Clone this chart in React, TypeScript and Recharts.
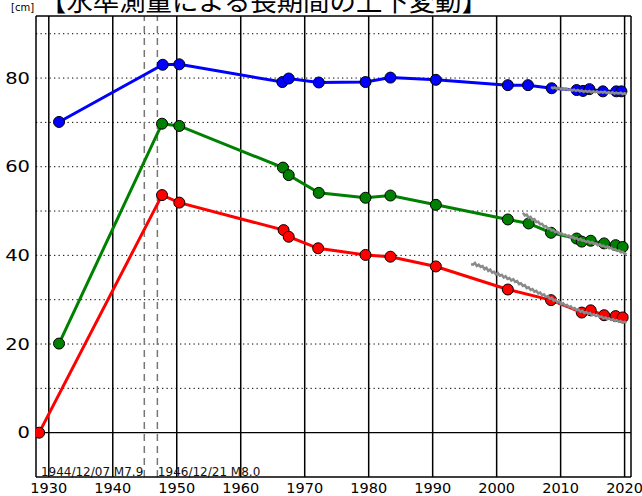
import React from "react";
import { LineChart, Line, XAxis, YAxis, ReferenceLine } from "recharts";

const titleText = "【水準測量による長期間の上下変動】";
const unitText = "[cm]";
const quake1Label = "1944/12/07 M7.9";
const quake2Label = "1946/12/21 M8.0";
const quakeYears = [1944.93, 1946.97];

const xTicks = [1930, 1940, 1950, 1960, 1970, 1980, 1990, 2000, 2010, 2020];
const yTicks = [0, 20, 40, 60, 80];
const yDotted = [10, 20, 30, 40, 50, 60, 70, 80, 90];
const yMinorTicks = [0, 10, 20, 30, 40, 50, 60, 70, 80, 90];

const blueYears = [1931.6, 1947.8, 1950.4, 1966.5, 1967.5, 1972.2, 1979.5, 1983.4, 1990.5, 2001.75, 2004.9, 2008.6, 2012.5, 2013.5, 2014.5, 2016.6, 2018.7, 2019.5];
const blueValues = [70.1, 83.0, 83.1, 79.1, 79.9, 79.0, 79.1, 80.1, 79.6, 78.4, 78.4, 77.7, 77.3, 77.1, 77.5, 77.0, 77.0, 77.0];

const greenYears = [1931.6, 1947.7, 1950.4, 1966.6, 1967.5, 1972.2, 1979.5, 1983.4, 1990.5, 2001.75, 2005.0, 2008.5, 2012.5, 2013.3, 2014.7, 2016.8, 2018.6, 2019.7];
const greenValues = [20.1, 69.7, 69.2, 59.8, 58.1, 54.1, 53.0, 53.5, 51.4, 48.1, 47.2, 45.1, 43.8, 43.1, 43.3, 42.7, 42.3, 41.9];

const redYears = [1928.5, 1947.7, 1950.4, 1966.7, 1967.5, 1972.1, 1979.5, 1983.4, 1990.5, 2001.75, 2008.5, 2013.3, 2014.7, 2016.8, 2018.6, 2019.7];
const redValues = [0, 53.6, 51.9, 45.7, 44.2, 41.6, 40.1, 39.7, 37.5, 32.3, 29.9, 27.1, 27.6, 26.5, 26.3, 26.0];

const grayBlueYears = [2008.5, 2008.8, 2009.1, 2009.4, 2009.7, 2010.0, 2010.3, 2010.6, 2010.9, 2011.2, 2011.5, 2011.8, 2012.1, 2012.4, 2012.7, 2013.0, 2013.3, 2013.6, 2013.9, 2014.2, 2014.5, 2014.8, 2015.1, 2015.4, 2015.7, 2016.0, 2016.3, 2016.6, 2016.9, 2017.2, 2017.5, 2017.8, 2018.1, 2018.4, 2018.7, 2019.0, 2019.4, 2019.7, 2020.0, 2020.3];
const grayBlueValues = [78.0, 77.7, 77.9, 77.6, 77.8, 77.5, 77.7, 77.4, 77.6, 77.3, 77.5, 77.2, 77.4, 77.1, 77.3, 77.0, 77.2, 76.9, 77.1, 76.9, 77.1, 76.8, 77.0, 76.8, 77.0, 76.7, 76.9, 76.7, 76.9, 76.6, 76.8, 76.6, 76.8, 76.5, 76.7, 76.5, 76.7, 76.4, 76.6, 76.4];

const grayGreenYears = [2004.1, 2004.4, 2004.7, 2005.0, 2005.3, 2005.6, 2005.9, 2006.2, 2006.5, 2006.8, 2007.1, 2007.4, 2007.7, 2008.0, 2008.3, 2008.6, 2008.9, 2009.2, 2009.5, 2009.8, 2010.1, 2010.4, 2010.7, 2011.0, 2011.3, 2011.6, 2011.9, 2012.2, 2012.5, 2012.8, 2013.1, 2013.4, 2013.7, 2014.0, 2014.3, 2014.6, 2014.9, 2015.2, 2015.5, 2015.8, 2016.1, 2016.4, 2016.7, 2017.0, 2017.3, 2017.6, 2017.9, 2018.2, 2018.5, 2018.8, 2019.1, 2019.4, 2019.7, 2020.0, 2020.3];
const grayGreenValues = [49.6, 49.0, 49.2, 48.5, 48.7, 48.0, 48.2, 47.5, 47.6, 47.0, 47.1, 46.5, 46.6, 46.0, 46.1, 45.6, 45.7, 45.2, 45.3, 44.9, 45.0, 44.6, 44.7, 44.3, 44.5, 44.0, 44.2, 43.8, 43.9, 43.5, 43.7, 43.3, 43.4, 43.0, 43.2, 42.8, 43.0, 42.6, 42.7, 42.3, 42.5, 42.1, 42.2, 41.8, 42.0, 41.6, 41.7, 41.3, 41.4, 41.0, 41.1, 40.7, 40.8, 40.4, 40.2];

const grayRedYears = [1996.0, 1996.3, 1996.6, 1996.9, 1997.2, 1997.5, 1997.8, 1998.1, 1998.4, 1998.7, 1999.0, 1999.3, 1999.6, 1999.9, 2000.2, 2000.5, 2000.8, 2001.1, 2001.4, 2001.7, 2002.0, 2002.3, 2002.6, 2002.9, 2003.2, 2003.5, 2003.8, 2004.1, 2004.4, 2004.7, 2005.0, 2005.3, 2005.6, 2005.9, 2006.2, 2006.5, 2006.8, 2007.1, 2007.4, 2007.7, 2008.0, 2008.3, 2008.6, 2008.9, 2009.2, 2009.5, 2009.8, 2010.1, 2010.4, 2010.7, 2011.0, 2011.3, 2011.6, 2011.9, 2012.2, 2012.5, 2012.8, 2013.1, 2013.4, 2013.7, 2014.0, 2014.3, 2014.6, 2014.9, 2015.2, 2015.5, 2015.8, 2016.1, 2016.4, 2016.7, 2017.0, 2017.3, 2017.6, 2017.9, 2018.2, 2018.5, 2018.8, 2019.1, 2019.4, 2019.7, 2020.0, 2020.3];
const grayRedValues = [38.0, 37.9, 38.3, 37.6, 37.9, 37.4, 37.6, 36.9, 37.2, 36.5, 36.8, 36.1, 36.3, 35.7, 36.0, 35.4, 35.6, 35.0, 35.3, 34.7, 34.9, 34.3, 34.6, 34.0, 34.2, 33.5, 33.7, 33.1, 33.3, 32.6, 32.8, 32.2, 32.4, 31.8, 32.0, 31.4, 31.6, 31.0, 31.2, 30.6, 30.8, 30.2, 30.4, 29.8, 30.0, 29.4, 29.6, 29.0, 29.2, 28.7, 28.8, 28.3, 28.5, 27.9, 28.1, 27.6, 27.8, 27.3, 27.5, 27.0, 27.2, 26.8, 27.0, 26.5, 26.7, 26.3, 26.5, 26.1, 26.2, 25.8, 26.0, 25.6, 25.8, 25.4, 25.6, 25.2, 25.4, 25.0, 25.2, 24.8, 25.0, 24.8];

const toData = (xs: number[], ys: number[]) => xs.map((x, i) => ({ year: x, v: ys[i] }));

const blueData = toData(blueYears, blueValues);
const greenData = toData(greenYears, greenValues);
const redData = toData(redYears, redValues);
const grayBlue = toData(grayBlueYears, grayBlueValues);
const grayGreen = toData(grayGreenYears, grayGreenValues);
const grayRed = toData(grayRedYears, grayRedValues);

const FONT = "'DejaVu Sans', sans-serif";

const XTick = (props: any) => {
  const { x, y, payload } = props;
  return (
    <text x={x} y={y + 16} textAnchor="middle" fontSize={14.5} fontFamily={FONT} fill="#000">
      {payload.value}
    </text>
  );
};

const YTick = (props: any) => {
  const { x, y, payload } = props;
  return (
    <text
      transform={`translate(${x},${y + 5.5}) scale(1.3,1)`}
      textAnchor="end"
      fontSize={15}
      fontFamily={FONT}
      fill="#000"
    >
      {payload.value}
    </text>
  );
};

const dotStyle = (color: string) => ({ r: 5.5, fill: color, stroke: "#000", strokeWidth: 1 });

export default function App() {
  return (
    <div style={{ position: "absolute", left: 0, top: 0, width: 642, height: 496, background: "#fff" }}>
      <LineChart width={642} height={496} margin={{ top: 16, right: 11, bottom: 0, left: 0 }}>
        <XAxis
          type="number"
          dataKey="year"
          domain={[1928, 2021]}
          ticks={xTicks}
          allowDataOverflow
          height={19}
          axisLine={false}
          tickLine={false}
          tickSize={0}
          tickMargin={0}
          tick={<XTick />}
        />
        <YAxis
          type="number"
          dataKey="v"
          domain={[-10, 94]}
          ticks={yTicks}
          allowDataOverflow
          width={36}
          axisLine={false}
          tickLine={false}
          tickSize={0}
          tickMargin={6}
          tick={<YTick />}
        />
        <YAxis
          yAxisId="right"
          orientation="right"
          mirror
          type="number"
          domain={[-10, 94]}
          ticks={yMinorTicks}
          allowDataOverflow
          width={0}
          axisLine={false}
          tickLine={{ stroke: "#000", strokeWidth: 1 }}
          tickSize={4}
          tick={false}
        />
        {yDotted.map((v) => (
          <ReferenceLine key={"h" + v} y={v} stroke="#000" strokeWidth={1} strokeDasharray="1.3 3.2" />
        ))}
        <ReferenceLine y={0} stroke="#000" strokeWidth={1.2} />
        {xTicks.map((v) => (
          <ReferenceLine key={"v" + v} x={v} stroke="#000" strokeWidth={1.5} />
        ))}
        <ReferenceLine
          x={quakeYears[0]}
          stroke="#777"
          strokeWidth={1.5}
          strokeDasharray="7 5"
          label={(p: any) => (
            <text x={p.viewBox.x - 1} y={p.viewBox.y + p.viewBox.height - 1.5} textAnchor="end" fontSize={12} fontFamily={FONT} fill="#111">
              {quake1Label}
            </text>
          )}
        />
        <ReferenceLine
          x={quakeYears[1]}
          stroke="#777"
          strokeWidth={1.5}
          strokeDasharray="7 5"
          label={(p: any) => (
            <text x={p.viewBox.x + 0.5} y={p.viewBox.y + p.viewBox.height - 1.5} textAnchor="start" fontSize={12} fontFamily={FONT} fill="#111">
              {quake2Label}
            </text>
          )}
        />
        <ReferenceLine x={1928} stroke="#000" strokeWidth={1.5} />
        <ReferenceLine x={2021} stroke="#000" strokeWidth={1.5} />
        <ReferenceLine y={94} stroke="#000" strokeWidth={1.5} />
        <ReferenceLine y={-10} stroke="#000" strokeWidth={1.5} />

        <Line data={redData} dataKey="v" stroke="#ff0000" strokeWidth={3} dot={dotStyle("#ff0000")} isAnimationActive={false} />
        <Line data={greenData} dataKey="v" stroke="#008000" strokeWidth={3} dot={dotStyle("#008000")} isAnimationActive={false} />
        <Line data={blueData} dataKey="v" stroke="#0000ff" strokeWidth={3} dot={dotStyle("#0000ff")} isAnimationActive={false} />
        <Line data={grayRed} dataKey="v" stroke="#8a8a8a" strokeWidth={2.5} dot={false} isAnimationActive={false} zIndex={2000} />
        <Line data={grayGreen} dataKey="v" stroke="#8a8a8a" strokeWidth={2.5} dot={false} isAnimationActive={false} zIndex={2000} />
        <Line data={grayBlue} dataKey="v" stroke="#8a8a8a" strokeWidth={2.5} dot={false} isAnimationActive={false} zIndex={2000} />
      </LineChart>
      <svg width={642} height={496} style={{ position: "absolute", left: 0, top: 0, pointerEvents: "none" }}>
        <text x={11} y={10.5} fontSize={10} fontFamily={FONT} fill="#000">
          {unitText}
        </text>
        <text x={40} y={10.5} fontSize={26.4} fontFamily="'Noto Sans CJK JP', sans-serif" fill="#000">
          {titleText}
        </text>
      </svg>
    </div>
  );
}
